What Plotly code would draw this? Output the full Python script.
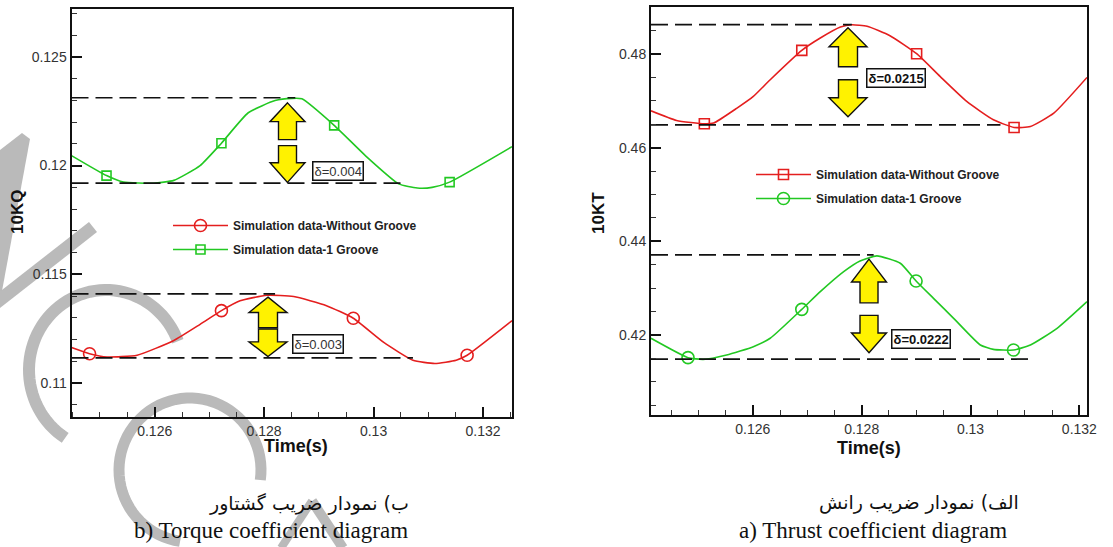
import numpy as np
import plotly.graph_objects as go

W, H = 1113, 547

# ---------------- data ----------------
# Torque coefficient (left panel)
kq_t_red = [0.12448, 0.12481, 0.12513, 0.12568, 0.12635, 0.12683, 0.12722, 0.12756, 0.12805,
            0.12854, 0.12914, 0.12963, 0.13018, 0.13072, 0.13112, 0.13151, 0.13171, 0.13253]
kq_v_red = [0.11163, 0.11135, 0.11120, 0.11128, 0.11196, 0.11270, 0.11333, 0.11378, 0.11404,
            0.11398, 0.11356, 0.11298, 0.11188, 0.11105, 0.11090, 0.11105, 0.11128, 0.11287]
kq_mk_red = [0.12481, 0.12722, 0.12963, 0.13171]

kq_t_grn = [0.12448, 0.12512, 0.12543, 0.12598, 0.12635, 0.12683, 0.12722, 0.12771, 0.12820,
            0.12851, 0.12869, 0.12928, 0.12985, 0.13046, 0.13080, 0.13107, 0.13139, 0.13253]
kq_v_grn = [0.12046, 0.11954, 0.11924, 0.11919, 0.11932, 0.12000, 0.12103, 0.12243, 0.12299,
            0.12309, 0.12307, 0.12185, 0.12046, 0.11916, 0.11897, 0.11900, 0.11924, 0.12087]
kq_mk_grn = [0.12512, 0.12722, 0.12928, 0.13139]

# Thrust coefficient (right panel)
kt_t_red = [0.12413, 0.12460, 0.12511, 0.12528, 0.12571, 0.12601, 0.12632, 0.12690, 0.12724,
            0.12761, 0.12782, 0.12810, 0.12852, 0.12901, 0.12944, 0.12993, 0.13042, 0.13080,
            0.13110, 0.13153, 0.13214]
kt_v_red = [0.46788, 0.46582, 0.46510, 0.46525, 0.46845, 0.47095, 0.47451, 0.48078, 0.48342,
            0.48577, 0.48627, 0.48592, 0.48392, 0.48007, 0.47522, 0.46988, 0.46596, 0.46432,
            0.46453, 0.46738, 0.47501]
kt_mk_red = [0.12511, 0.12690, 0.12901, 0.13080]

kt_t_grn = [0.12413, 0.12481, 0.12509, 0.12552, 0.12601, 0.12632, 0.12690, 0.12724, 0.12767,
            0.12797, 0.12828, 0.12871, 0.12900, 0.12932, 0.12969, 0.13018, 0.13042, 0.13079,
            0.13110, 0.13159, 0.13214]
kt_v_grn = [0.41929, 0.41515, 0.41479, 0.41572, 0.41750, 0.41929, 0.42547, 0.42925, 0.43353,
            0.43581, 0.43689, 0.43531, 0.43153, 0.42782, 0.42355, 0.41785, 0.41692, 0.41678,
            0.41785, 0.42141, 0.42711]
kt_mk_grn = [0.12481, 0.12690, 0.12900, 0.13079]

# reference (dashed) levels: [level, x end]
kq_grn_levels = [(0.12312, 0.12857), (0.11919, 0.13051)]
kq_red_levels = [(0.11410, 0.12820), (0.11116, 0.13072)]
kt_red_levels = [(0.48627, 0.12782), (0.46489, 0.13055)]
kt_grn_levels = [(0.43709, 0.12822), (0.41485, 0.13110)]

delta_labels = ["δ=0.004", "δ=0.003", "δ=0.0215", "δ=0.0222"]

series_names = ["Simulation data-Without Groove", "Simulation data-1 Groove"]

kq_xtick_vals = [0.126, 0.128, 0.130, 0.132]
kq_xtick_text = ["0.126", "0.128", "0.13", "0.132"]
kq_ytick_vals = [0.110, 0.115, 0.120, 0.125]
kq_ytick_text = ["0.11", "0.115", "0.12", "0.125"]
kt_xtick_vals = [0.126, 0.128, 0.130, 0.132]
kt_xtick_text = ["0.126", "0.128", "0.13", "0.132"]
kt_ytick_vals = [0.42, 0.44, 0.46, 0.48]
kt_ytick_text = ["0.42", "0.44", "0.46", "0.48"]

# ---------------- layout geometry ----------------
KQ_X = [0.12448, 0.13253]
KQ_Y = [0.10844, 0.12720]
KT_X = [0.12413, 0.13214]
KT_Y = [0.40290, 0.49005]
kq_dom_px = (71.5, 512, 9, 417)
kt_dom_px = (651, 1087, 7, 415)

RED = "#e41e1e"
GRN = "#22c822"
YEL = "#fff200"
WM = "#bababa"

fig = go.Figure()


def add_series(t, v, mk, name, color, symbol, msize, xa, ya, legend):
    idx = [t.index(m) for m in mk]
    fig.add_trace(go.Scatter(
        x=t, y=v, mode="lines+markers", name=f"<b>{name}</b>",
        line=dict(color=color, width=1.6, shape="spline", smoothing=0.5),
        marker=dict(symbol=symbol, size=msize, color=color, line=dict(color=color, width=1.6)),
        selectedpoints=idx,
        selected=dict(marker=dict(opacity=1)),
        unselected=dict(marker=dict(opacity=0)),
        legendgroup=legend + name,
        xaxis=xa, yaxis=ya, legend=legend))


def add_levels(levels, xmin, xa, ya):
    for lvl, xend in levels:
        fig.add_trace(go.Scatter(
            x=[xmin, xend], y=[lvl, lvl], mode="lines", showlegend=False,
            line=dict(color="#111111", width=1.7, dash="17px,7px"),
            hoverinfo="skip", xaxis=xa, yaxis=ya))


add_series(kq_t_red, kq_v_red, kq_mk_red, series_names[0], RED, "circle-open", 12, "x", "y", "legend")
add_series(kq_t_grn, kq_v_grn, kq_mk_grn, series_names[1], GRN, "square-open", 9, "x", "y", "legend")
add_series(kt_t_red, kt_v_red, kt_mk_red, series_names[0], RED, "square-open", 10, "x2", "y2", "legend2")
add_series(kt_t_grn, kt_v_grn, kt_mk_grn, series_names[1], GRN, "circle-open", 12, "x2", "y2", "legend2")

add_levels(kq_grn_levels, KQ_X[0], "x", "y")
add_levels(kq_red_levels, KQ_X[0], "x", "y")
add_levels(kt_red_levels, KT_X[0], "x2", "y2")
add_levels(kt_grn_levels, KT_X[0], "x2", "y2")

shapes = []


# ---------- double arrows (yellow) between dashed levels ----------
def arrow_shapes(levels, cx_px, dom, xr, fr, head_px, shaft_px, xref, yref):
    x0p, x1p = dom[0], dom[1]
    sx = (xr[1] - xr[0]) / (x1p - x0p)
    cx = xr[0] + (cx_px - x0p) * sx
    hw, sw = head_px * sx, shaft_px * sx
    top, bot = levels[0][0], levels[1][0]
    span = top - bot
    yy = [top - f * span for f in fr]
    up = [(cx, yy[0]), (cx + hw, yy[1]), (cx + sw, yy[1]), (cx + sw, yy[2]),
          (cx - sw, yy[2]), (cx - sw, yy[1]), (cx - hw, yy[1])]
    dn = [(cx, yy[5]), (cx + hw, yy[4]), (cx + sw, yy[4]), (cx + sw, yy[3]),
          (cx - sw, yy[3]), (cx - sw, yy[4]), (cx - hw, yy[4])]
    out = []
    for poly in (up, dn):
        p = "M " + " L ".join(f"{a:.7f},{b:.7f}" for a, b in poly) + " Z"
        out.append(dict(type="path", path=p, xref=xref, yref=yref, fillcolor=YEL,
                        line=dict(color="#111111", width=1.4), layer="above"))
    return out


shapes += arrow_shapes(kq_grn_levels, 287.5, kq_dom_px, KQ_X, [0.06, 0.28, 0.49, 0.56, 0.76, 0.99], 17.5, 9, "x", "y")
shapes += arrow_shapes(kq_red_levels, 268, kq_dom_px, KQ_X, [0.05, 0.29, 0.53, 0.55, 0.75, 0.98], 19, 9.5, "x", "y")
shapes += arrow_shapes(kt_red_levels, 848, kt_dom_px, KT_X, [0.03, 0.22, 0.42, 0.55, 0.73, 0.92], 19, 9.5, "x2", "y2")
shapes += arrow_shapes(kt_grn_levels, 869, kt_dom_px, KT_X, [0.04, 0.26, 0.46, 0.58, 0.75, 0.94], 17.5, 9, "x2", "y2")


# ---------- watermark (gray strokes, paper coords over the whole figure) ----------
def P(px, py):
    return px / W, 1 - py / H


def path_from(points, close=False):
    s = "M " + " L ".join(f"{P(a, b)[0]:.5f},{P(a, b)[1]:.5f}" for a, b in points)
    return s + (" Z" if close else "")


def arc_pts(cx, cy, rx, ry, a0, a1, n=60):
    a = np.radians(np.linspace(a0, a1, n))
    return list(zip(cx + rx * np.cos(a), cy + ry * np.sin(a)))


wm = []
wm.append(dict(path=path_from([(0, 150), (22, 133), (30, 139), (0, 302)], close=True), fill=True))
wm.append(dict(path=path_from([(-4, 303), (93, 227)]), width=13))
wm.append(dict(path=path_from(arc_pts(106, 370, 77, 80, -21, -238)), width=12))
wm.append(dict(path=path_from(arc_pts(190, 470, 71, 72, 8, -262)), width=11))
wm.append(dict(path=path_from([(312, 501), (281, 548)]), width=8))
wm.append(dict(path=path_from([(312, 501), (343, 548)]), width=10))
for w_ in wm:
    if w_.get("fill"):
        shapes.append(dict(type="path", path=w_["path"], xref="paper", yref="paper",
                           fillcolor=WM, line=dict(width=0), layer="below"))
    else:
        shapes.append(dict(type="path", path=w_["path"], xref="paper", yref="paper",
                           line=dict(color=WM, width=w_["width"]), layer="below"))

# ---------- annotations ----------
ann = []
lab_pos = [(337.5, 170.5), (318, 343.5), (895.5, 78), (921, 338.5)]
lab_bold = [False, False, True, True]
for txt, (px, py), b in zip(delta_labels, lab_pos, lab_bold):
    x, y = P(px, py)
    ann.append(dict(x=x, y=y, xref="paper", yref="paper", text=f"<b>{txt}</b>" if b else txt,
                    showarrow=False, xanchor="center", yanchor="middle",
                    font=dict(family="Liberation Sans, Arial", size=13,
                              color="#111" if b else "#333"),
                    bgcolor="white", bordercolor="#111", borderwidth=1.5, borderpad=1))


def text_ann(txt, px, py, size, family="Liberation Sans, Arial", angle=0, color="#111"):
    x, y = P(px, py)
    return dict(x=x, y=y, xref="paper", yref="paper", text=txt, showarrow=False,
                textangle=angle, font=dict(family=family, size=size, color=color),
                xanchor="center", yanchor="middle")


ann.append(text_ann("<b>10KQ</b>", 18, 212, 17, angle=-90))
ann.append(text_ann("<b>10KT</b>", 598, 213, 17, angle=-90))
ann.append(text_ann("<b>Time(s)</b>", 296, 446, 18))
ann.append(text_ann("<b>Time(s)</b>", 869, 448, 18))
ann.append(text_ann("ب) نمودار ضریب گشتاور", 309, 503, 19, family="DejaVu Sans"))
ann.append(text_ann("b) Torque coefficient diagram", 271, 530, 23, family="Liberation Serif, Times New Roman"))
ann.append(text_ann("الف) نمودار ضریب رانش", 919, 502, 19, family="DejaVu Sans"))
ann.append(text_ann("a) Thrust coefficient diagram", 873, 530, 23, family="Liberation Serif, Times New Roman"))


def axis(dom_px, rng, vals, text, minor_vals, horizontal, anchor):
    if horizontal:
        domain = [dom_px[0] / W, dom_px[1] / W]
    else:
        domain = [1 - dom_px[3] / H, 1 - dom_px[2] / H]
    return dict(domain=domain, range=rng, anchor=anchor, showgrid=False, zeroline=False,
                showline=True, linecolor="#111", linewidth=2, mirror=True,
                ticks="inside", ticklen=10, tickwidth=2, tickcolor="#111",
                tickmode="array", tickvals=vals, ticktext=text,
                tickfont=dict(family="Liberation Sans, Arial", size=14, color="#333"),
                minor=dict(tickmode="array", tickvals=minor_vals, ticks="inside",
                           ticklen=5, tickwidth=1, tickcolor="#333", showgrid=False),
                automargin=False, fixedrange=True)


kq_xminor = [round(v, 5) for v in np.arange(0.1245, 0.1326, 0.0005)]
kq_yminor = [round(v, 4) for v in np.arange(0.109, 0.1275, 0.001)]
kt_xminor = [round(v, 5) for v in np.arange(0.1245, 0.1322, 0.0005)]
kt_yminor = [round(v, 4) for v in np.arange(0.405, 0.4905, 0.005)]

legend_font = dict(family="Liberation Sans, Arial", size=12, color="#222")

fig.update_layout(
    width=W, height=H, margin=dict(l=0, r=0, t=0, b=0),
    paper_bgcolor="white", plot_bgcolor="rgba(0,0,0,0)",
    xaxis=axis(kq_dom_px, KQ_X, kq_xtick_vals, kq_xtick_text, kq_xminor, True, "y"),
    yaxis=axis(kq_dom_px, KQ_Y, kq_ytick_vals, kq_ytick_text, kq_yminor, False, "x"),
    xaxis2=axis(kt_dom_px, KT_X, kt_xtick_vals, kt_xtick_text, kt_xminor, True, "y2"),
    yaxis2=axis(kt_dom_px, KT_Y, kt_ytick_vals, kt_ytick_text, kt_yminor, False, "x2"),
    legend=dict(x=168 / W, y=1 - 211 / H, xanchor="left", yanchor="top",
                bgcolor="rgba(0,0,0,0)", font=legend_font, itemwidth=55,
                tracegroupgap=5, traceorder="grouped"),
    legend2=dict(x=751 / W, y=1 - 160 / H, xanchor="left", yanchor="top",
                 bgcolor="rgba(0,0,0,0)", font=legend_font, itemwidth=55,
                 tracegroupgap=5, traceorder="grouped"),
    shapes=shapes, annotations=ann, showlegend=True,
)

fig.write_html("out.html")
